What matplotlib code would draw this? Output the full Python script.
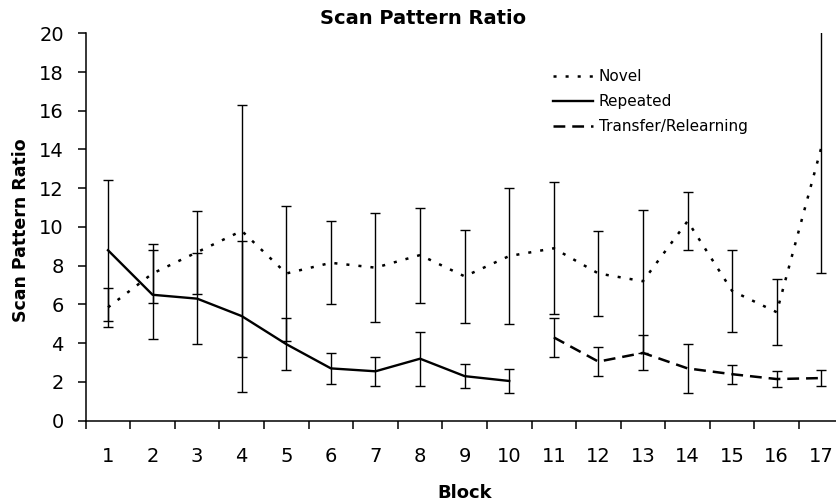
import matplotlib
matplotlib.use('Agg')
import matplotlib.pyplot as plt
import numpy as np

# values
blocks = list(range(1, 18))

novel = [5.85, 7.6, 8.7, 9.8, 7.6, 8.15, 7.9, 8.55, 7.45, 8.5,
         8.9, 7.6, 7.2, 10.3, 6.7, 5.6, 14.1]
novel_err = [1.0, 1.5, 2.15, 6.5, 3.5, 2.15, 2.8, 2.45, 2.4, 3.5,
             3.4, 2.2, 3.7, 1.5, 2.1, 1.7, 6.5]

repeated_blocks = list(range(1, 11))
repeated = [8.8, 6.5, 6.3, 5.4, 3.95, 2.7, 2.55, 3.2, 2.3, 2.05]
repeated_err = [3.65, 2.3, 2.35, 3.9, 1.35, 0.8, 0.75, 1.4, 0.62, 0.62]

transfer_blocks = list(range(11, 18))
transfer = [4.3, 3.05, 3.5, 2.7, 2.4, 2.15, 2.2]
transfer_err = [1.0, 0.75, 0.9, 1.25, 0.5, 0.4, 0.42]

yticks = list(range(0, 21, 2))

plt.rcParams['lines.scale_dashes'] = False

fig = plt.figure(figsize=(8.37, 5.01), dpi=100)
ax = fig.add_axes([85.7 / 837, 0.1603, (843.6 - 85.7) / 837, 0.7733])

err_kw = dict(fmt='none', ecolor='black', elinewidth=1, capsize=3.5, capthick=1)

ax.plot(blocks, novel, color='black', lw=1.8, linestyle=(0, (2.2, 6.5)),
        label='Novel')
ax.plot(repeated_blocks, repeated, color='black', lw=1.7, linestyle='-',
        label='Repeated')
ax.plot(transfer_blocks, transfer, color='black', lw=1.8,
        linestyle=(0, (8.5, 5)), label='Transfer/Relearning')

ax.errorbar(blocks, novel, yerr=novel_err, **err_kw)
ax.errorbar(repeated_blocks, repeated, yerr=repeated_err, **err_kw)
ax.errorbar(transfer_blocks, transfer, yerr=transfer_err, **err_kw)

ax.set_xlim(0.5, 17.5)
ax.set_ylim(0, 20)

# ticks between categories, labels centred on them
ax.set_xticks(np.arange(0.5, 18, 1))
ax.set_xticklabels([])
ax.set_xticks(blocks, minor=True)
ax.set_xticklabels([str(b) for b in blocks], minor=True)
ax.tick_params(axis='x', which='major', direction='out', length=5.5, width=1.1)
ax.tick_params(axis='x', which='minor', length=0, pad=19, labelsize=14)

ax.set_yticks(yticks)
ax.tick_params(axis='y', direction='out', length=5.8, width=1.1, pad=10,
               labelsize=14)

for side in ['top', 'right']:
    ax.spines[side].set_visible(False)
for side in ['left', 'bottom']:
    ax.spines[side].set_linewidth(1.1)

ax.set_xlabel('Block', fontsize=13, fontweight='bold')
ax.xaxis.set_label_coords(0.5, -0.163)
ax.set_ylabel('Scan Pattern Ratio', fontsize=12.5, fontweight='bold')
ax.yaxis.set_label_coords(-0.0735, 0.492)

fig.text(423 / 837, 0.964, 'Scan Pattern Ratio', fontsize=14,
         fontweight='bold', ha='center', va='center')

ax.legend(loc='upper left', bbox_to_anchor=(553 / 837, (501 - 69) / 501),
          bbox_transform=fig.transFigure, frameon=False, fontsize=11,
          handlelength=2.6, handletextpad=0.4, labelspacing=0.65,
          borderpad=0, borderaxespad=0)

plt.savefig('out.png', dpi=100)
